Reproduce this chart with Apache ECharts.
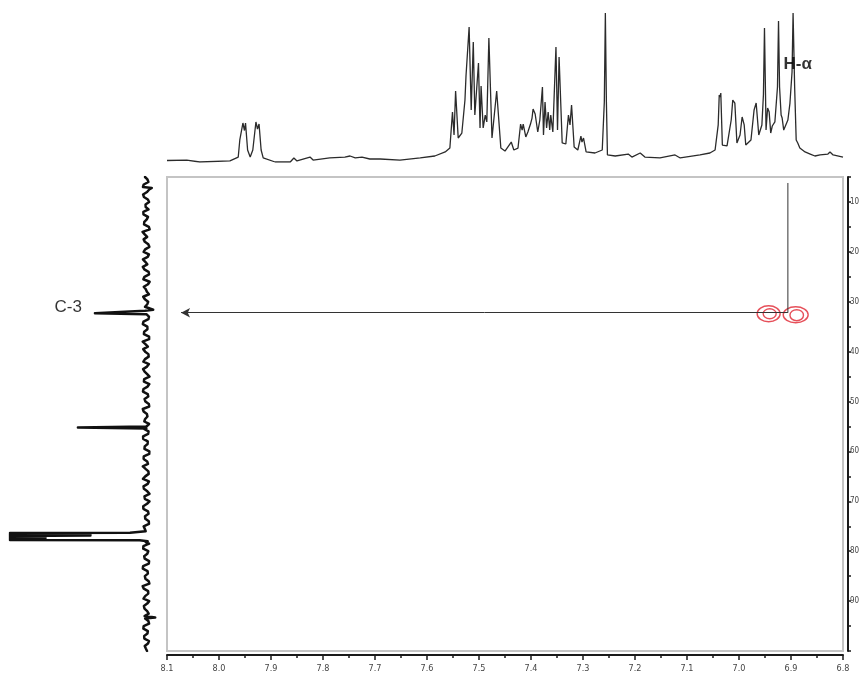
<!DOCTYPE html>
<html>
<head>
<meta charset="utf-8">
<script src="https://cdn.jsdelivr.net/npm/echarts@6/dist/echarts.min.js"></script>
<style>
  html, body { margin: 0; padding: 0; background: #fff; }
  #chart { width: 865px; height: 673px; }
</style>
</head>
<body>
<div id="chart"></div>
<script>
// 1H spectrum trace: [chemical shift (ppm), relative intensity]
const protonTrace = [
  [8.100,1],[8.062,1.3],[8.037,0],[7.979,0.7],[7.963,3.3],[7.960,14.7],[7.954,26],[7.951,21],[7.949,26],
  [7.945,8],[7.940,3.3],[7.935,8],[7.929,26.7],[7.926,22],[7.923,25.3],[7.919,8],[7.915,2.7],[7.892,0],
  [7.863,0],[7.856,2.7],[7.850,0.7],[7.825,3.3],[7.819,1.3],[7.787,2.7],[7.758,3.3],[7.748,4],[7.738,2.7],
  [7.725,3.3],[7.710,2],[7.690,2],[7.652,1.3],[7.613,2.7],[7.585,4],[7.565,6.7],[7.556,9.3],[7.551,33.3],
  [7.548,18],[7.545,47.3],[7.540,16],[7.533,19.3],[7.527,41.3],[7.525,57.3],[7.519,90],[7.515,34.7],
  [7.511,80],[7.508,31.3],[7.501,66],[7.498,22.7],[7.496,50.7],[7.492,22.7],[7.488,31.3],[7.485,26.7],
  [7.481,82.7],[7.475,16],[7.466,47.3],[7.458,9.3],[7.450,7.3],[7.438,13.3],[7.433,8],[7.425,9.3],
  [7.420,25.3],[7.417,21.3],[7.415,25.3],[7.410,16.7],[7.406,20],[7.401,25.3],[7.398,29.3],[7.396,35.3],
  [7.392,32],[7.389,33.3],[7.387,20],[7.383,28],[7.378,50],[7.376,18],[7.373,40],[7.370,22.7],[7.367,33.3],
  [7.364,21.3],[7.362,31.3],[7.358,20],[7.352,76.7],[7.349,21.3],[7.346,70],[7.340,12.7],[7.333,12],
  [7.328,31.3],[7.325,24.7],[7.322,38],[7.317,10],[7.310,8],[7.304,17.3],[7.302,13.3],[7.299,16],
  [7.294,6.7],[7.277,6],[7.263,8],[7.259,40],[7.257,99.3],[7.255,40],[7.253,4.7],[7.238,4],[7.213,5.3],
  [7.206,3.3],[7.190,6],[7.181,3.3],[7.152,2.7],[7.123,4.7],[7.113,2.7],[7.075,4.7],[7.056,6],[7.046,8],
  [7.040,24.7],[7.038,44.7],[7.036,43.3],[7.035,46],[7.032,11.3],[7.023,10.7],[7.015,28],[7.012,41.3],
  [7.008,39.3],[7.004,12.7],[6.998,18],[6.994,30],[6.990,24.7],[6.987,11.3],[6.977,14.7],[6.971,34.7],
  [6.967,39.3],[6.962,18],[6.956,24.7],[6.953,45],[6.951,89.3],[6.949,45],[6.948,21.3],[6.945,36],
  [6.942,33.3],[6.939,19.3],[6.936,24],[6.931,26.7],[6.926,50],[6.924,94],[6.922,50],[6.919,31.3],
  [6.917,29.3],[6.914,21.3],[6.906,28],[6.902,39.3],[6.898,60],[6.896,99.3],[6.893,50],[6.890,14.7],
  [6.887,12.7],[6.883,9.3],[6.873,6.7],[6.863,5.3],[6.854,4],[6.844,4.7],[6.829,5.3],[6.825,6.7],
  [6.819,4.7],[6.800,3.3]
];

// 13C baseline noise on whole ppm values from 5 ppm (null where a resonance sits)
const carbonNoiseStart = 5;
const carbonNoise = [
  1, -1.5, 2.5, -0.5, 1.8, -2, 0.5, 2.2, -1.2, 1.5,
  -1.8, 2.8, -0.6, 1.1, -2.2, 2, -1, 0.8, 2.6, -1.6,
  1.4, -2.4, 1.9, -0.4, 2.3, -1.3, 1.0, null, -1.9, 2.1,
  -0.7, 1.6, -2.0, 2.7, -1.1, 0.9, -1.7, 2.2, -0.5, 1.3,
  -2.3, 1.8, -0.9, 2.5, -1.4, 0.7, -2.1, 2.0, -0.8, 1.5,
  null, -1.6, 2.4, -1.0, 1.2, -2.2, 1.9, -0.6, 2.6, -1.5,
  0.8, -1.9, 2.1, -0.7, 1.4, -2.3, 2.3, -1.2, 1.0, -1.8,
  2.0, 0.5, null, -1.0, 2.2, -1.4, 1.6, -2.0, 2.4, -0.9,
  1.1, -1.7, 2.7, -1.3, 0.9, -2.1, 1.8, -0.6, 1.3, -1.5,
  2.0, -1.1, 1.6, -1.9, 1.2, -0.5
];
// 13C baseline noise on half ppm values from 5.5 ppm
const carbonNoiseHalfStart = 5.5;
const carbonNoiseHalf = [
  -0.8, 1.9, -2.1, 2.4, -1.1, 0.6, -1.6, 2.1, -0.3, 1.7,
  -2.4, 1.2, 2.0, -1.4, 0.9, -1.9, 2.5, -0.7, 1.5, -2.0,
  2.2, -1.2, 0.4, -1.9, 1.1, -0.7, null, null, -1.5, 2.6,
  -0.8, 1.8, -2.0, 0.7, 2.3, -1.5, 1.0, -1.9, 2.4, -0.6,
  1.6, -2.2, 2.1, -1.0, 1.3, -1.8, 2.6, -0.4, 0.9, -2.0,
  1.7, -1.3, 2.3, -0.9, 1.4, -2.1, 2.0, -1.2, 0.6, -1.7,
  2.5, -1.0, 1.8, -2.3, 1.1, -0.5, 2.2, -1.6, 0.8, -1.9,
  1.2, null, null, -2.0, 2.3, -0.7, 1.2, -1.8, 2.6, -1.1,
  0.7, -2.2, 1.9, -1.4, 2.1, -0.6, 1.4, -1.7, 0.9, -2.0,
  2.2, -0.8, 1.5, -1.2, 0.4
];

// 13C resonances and spikes: [ppm, intensity]
const carbonPeaks = [
  [7.2, -4], [31.6, -5], [31.8, 1], [32.1, 0], [32.3, 37.7], [32.5, 0],
  [55.0, 0], [55.2, 50.2], [55.4, 0],
  [76.0, 1.5], [76.3, 12], [76.35, 100], [76.45, 41], [76.55, 100], [76.65, 41], [76.75, 100],
  [76.85, 41], [76.95, 100], [77.05, 74], [77.15, 100], [77.25, 74], [77.35, 100], [77.45, 74],
  [77.55, 100], [77.65, 74], [77.75, 100], [77.8, 5], [78.2, 0.5],
  [93.3, -6.5]
];

// HSQC cross-peak contours: [1H ppm, 13C ppm, 1H half-width, 13C half-height]
const crossPeakContours = [
  [6.943, 32.4, 0.0221, 1.6],
  [6.941, 32.4, 0.0125, 1.0],
  [6.891, 32.6, 0.0240, 1.6],
  [6.889, 32.7, 0.0130, 1.1]
];

// correlation path from H-alpha down to C-3 and across to the 13C axis
const hAlphaShift = 6.906;
const c3Shift = 32.2;
const correlationTop = 6.2;
const correlationEnd = 8.073;

const carbonTrace = [];
carbonNoise.forEach((v, i) => { if (v !== null) carbonTrace.push([carbonNoiseStart + i, v]); });
carbonNoiseHalf.forEach((v, i) => { if (v !== null) carbonTrace.push([carbonNoiseHalfStart + i, v]); });
carbonPeaks.forEach(p => carbonTrace.push(p));
carbonTrace.sort((a, b) => a[0] - b[0]);

const chart = echarts.init(document.getElementById('chart'), null, { renderer: 'canvas' });

const hidden = { show: false };
const option = {
  animation: false,
  backgroundColor: '#fff',
  grid: [
    { left: 167, top: 177, width: 676, height: 474, show: true, borderColor: '#c4c4c4', borderWidth: 2, backgroundColor: 'transparent' },
    { left: 167, top: 12, width: 676, height: 150 },
    { left: 10, top: 177, width: 150, height: 474 }
  ],
  xAxis: [
    {
      gridIndex: 0, type: 'value', min: 6.8, max: 8.1, interval: 0.1, inverse: true,
      position: 'bottom', offset: 4,
      axisLine: { show: true, onZero: false, lineStyle: { color: '#1a1a1a', width: 2 } },
      axisTick: { show: true, length: 5, lineStyle: { color: '#1a1a1a', width: 1.5 } },
      minorTick: { show: true, splitNumber: 2, length: 3, lineStyle: { color: '#1a1a1a', width: 1.5 } },
      splitLine: hidden,
      axisLabel: { fontSize: 9, color: '#444', margin: 9, fontFamily: 'DejaVu Sans Condensed',
        formatter: v => v.toFixed(1) }
    },
    { gridIndex: 1, type: 'value', min: 6.8, max: 8.1, inverse: true, show: false },
    { gridIndex: 2, type: 'value', min: -10, max: 100, inverse: true, show: false }
  ],
  yAxis: [
    {
      gridIndex: 0, type: 'value', min: 5, max: 100, interval: 5, inverse: true,
      position: 'right', offset: 5,
      axisLine: { show: true, onZero: false, lineStyle: { color: '#1a1a1a', width: 2 } },
      axisTick: { show: true, length: 3, lineStyle: { color: '#1a1a1a', width: 1.5 } },
      splitLine: hidden,
      axisLabel: { fontSize: 8, color: '#444', margin: 2, fontFamily: 'DejaVu Sans Condensed',
        formatter: v => (v % 10 === 0 && v < 100) ? String(v) : '' }
    },
    { gridIndex: 1, type: 'value', min: 0, max: 100, show: false },
    { gridIndex: 2, type: 'value', min: 5, max: 100, inverse: true, show: false }
  ],
  series: [
    {
      name: '1H', type: 'line', xAxisIndex: 1, yAxisIndex: 1, data: protonTrace,
      symbol: 'none', lineStyle: { color: '#2b2b2b', width: 1.3 }, z: 2
    },
    {
      name: '13C', type: 'line', xAxisIndex: 2, yAxisIndex: 2,
      data: carbonTrace.map(p => [p[1], p[0]]),
      symbol: 'none', lineStyle: { color: '#111', width: 2.5, join: 'round', cap: 'round' }, z: 2
    },
    {
      name: 'C-3 label', type: 'scatter', xAxisIndex: 2, yAxisIndex: 2,
      data: [[37.7, 32.3]], symbolSize: 0, silent: true,
      label: { show: true, formatter: 'C-3', position: 'left', distance: 13, offset: [0, -6],
        fontSize: 17, color: '#000', fontFamily: 'Liberation Sans' }
    },
    {
      name: 'H-alpha label', type: 'scatter', xAxisIndex: 1, yAxisIndex: 1,
      data: [[6.887, 65]], symbolSize: 0, silent: true, z: 5,
      label: { show: true, formatter: 'H-α', position: 'inside',
        fontSize: 17, fontWeight: 'bold', color: '#000', fontFamily: 'Liberation Sans' }
    },
    {
      name: 'contours', type: 'custom', xAxisIndex: 0, yAxisIndex: 0,
      data: crossPeakContours,
      encode: { x: 0, y: 1 },
      renderItem: (params, api) => {
        const c = api.coord([api.value(0), api.value(1)]);
        const s = api.size([api.value(2), api.value(3)]);
        return {
          type: 'ellipse',
          shape: { cx: c[0], cy: c[1], rx: s[0], ry: s[1] },
          style: { fill: 'none', stroke: '#e6505a', lineWidth: 1.4 }
        };
      },
      z: 3
    },
    {
      name: 'correlation', type: 'line', xAxisIndex: 0, yAxisIndex: 0,
      data: [[hAlphaShift, correlationTop], [hAlphaShift, c3Shift]],
      symbol: 'none', lineStyle: { color: '#333', width: 1 }, z: 4,
      markLine: {
        silent: true, symbol: ['none', 'arrow'], symbolSize: [7, 9],
        label: { show: false },
        lineStyle: { color: '#333', width: 1, type: 'solid' },
        data: [[{ coord: [hAlphaShift, c3Shift] }, { coord: [correlationEnd, c3Shift] }]]
      }
    }
  ]
};
chart.setOption(option);
</script>
</body>
</html>
